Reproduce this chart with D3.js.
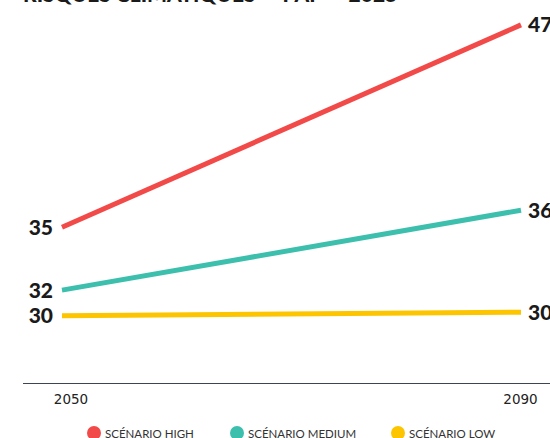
<!DOCTYPE html>
<html><head><meta charset="utf-8">
<script src="https://cdn.jsdelivr.net/npm/d3@7"></script>
<style>
html,body{margin:0;padding:0;background:#fff;}
svg{display:block;}
</style></head>
<body>
<svg id="chart" width="550" height="438"></svg>
<script>
const years = [2050, 2090];
const seriesNames = ["SCÉNARIO HIGH", "SCÉNARIO MEDIUM", "SCÉNARIO LOW"];
const highValues = [35.4, 47.3];
const mediumValues = [31.7, 36.4];
const lowValues = [30.2, 30.4];
const colors = ["#f24a48", "#3dbfad", "#fcc500"];
const titleText = "RISQUES CLIMATIQUES — PAP — 2025";

const series = [highValues, mediumValues, lowValues].map((v, i) => ({
  name: seriesNames[i], values: v, color: colors[i]
}));

const svg = d3.select("#chart");
const font = "Lato, 'Open Sans', sans-serif";

const x = d3.scaleLinear().domain([2050, 2090]).range([62, 521]);
const y = d3.scaleLinear().domain([26.24, 48]).range([383, 13]);

// title (cut off at top)
svg.append("text").attr("x", 23).attr("y", 2)
  .attr("font-family", font).attr("font-weight", 900).attr("font-size", 21)
  .attr("fill", "#1a1a1a").text(titleText);

// x axis baseline
svg.append("line").attr("x1", 23).attr("x2", 550)
  .attr("y1", 383.5).attr("y2", 383.5)
  .attr("stroke", "#3b4556").attr("stroke-width", 1.2);

// tick labels
const tickFont = "'DejaVu Sans', Verdana, sans-serif";
svg.append("text").attr("x", x(years[0]) + 9).attr("y", 403.5)
  .attr("font-family", tickFont).attr("font-size", 13.5).attr("fill", "#222")
  .attr("text-anchor", "middle").text(years[0]);
svg.append("text").attr("x", x(years[1]) - 0.5).attr("y", 403.5)
  .attr("font-family", tickFont).attr("font-size", 13.5).attr("fill", "#222")
  .attr("text-anchor", "middle").text(years[1]);

const line = d3.line().x((d, i) => x(years[i])).y(d => y(d));

series.forEach(s => {
  svg.append("path").datum(s.values)
    .attr("d", line).attr("fill", "none")
    .attr("stroke", s.color).attr("stroke-width", 5);
  svg.append("text").attr("x", x(years[0]) - 9).attr("y", y(s.values[0]))
    .attr("dy", "0.36em").attr("text-anchor", "end")
    .attr("font-family", font).attr("font-weight", 900).attr("font-size", 21)
    .attr("fill", "#1a1a1a").text(d3.format(".0f")(s.values[0]));
  svg.append("text").attr("x", x(years[1]) + 7).attr("y", y(s.values[1]))
    .attr("dy", "0.36em").attr("text-anchor", "start")
    .attr("font-family", font).attr("font-weight", 900).attr("font-size", 21)
    .attr("fill", "#1a1a1a").text(d3.format(".0f")(s.values[1]));
});

// legend
const legendX = [94, 237, 398];
series.forEach((s, i) => {
  svg.append("circle").attr("cx", legendX[i]).attr("cy", 433).attr("r", 7)
    .attr("fill", s.color);
  svg.append("text").attr("x", legendX[i] + 11).attr("y", 437.5)
    .attr("font-family", font).attr("font-size", 11.5).attr("fill", "#333")
    .text(s.name);
});
</script>
</body></html>
